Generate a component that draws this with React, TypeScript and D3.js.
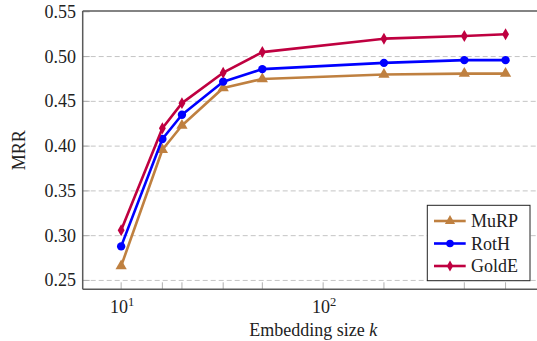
import React, { useEffect, useRef } from "react";
import * as d3 from "d3";

const W = 537;
const H = 341;

const sizes = [10, 16, 20, 32, 50, 200, 500, 800];
const xTicks = [10, 16, 20, 32, 50, 100, 200, 500, 800];
const xLabelTicks = [10, 100];
const yTicks = [0.25, 0.3, 0.35, 0.4, 0.45, 0.5, 0.55];

const murp = [0.266, 0.396, 0.423, 0.465, 0.475, 0.48, 0.481, 0.481];
const roth = [0.288, 0.408, 0.435, 0.472, 0.486, 0.493, 0.496, 0.496];
const golde = [0.306, 0.42, 0.448, 0.482, 0.505, 0.52, 0.523, 0.525];

const series = [
  { name: "MuRP", values: murp, color: "#bf8040", marker: "triangle" },
  { name: "RotH", values: roth, color: "#0000ff", marker: "circle" },
  { name: "GoldE", values: golde, color: "#bf0040", marker: "diamond" },
];

const FONT = "'Liberation Serif', 'DejaVu Serif', serif";

const App = () => {
  const svgRef = useRef<SVGSVGElement>(null);

  useEffect(() => {
    const svg = d3.select(svgRef.current);
    svg.selectAll("*").remove();

    const left = 82.7, right = 544, top = 11, bottom = 289.3;

    // pgfplots style: 10% enlargement of the data range
    const lx0 = Math.log10(d3.min(sizes)!), lx1 = Math.log10(d3.max(sizes)!);
    const ex = (lx1 - lx0) * 0.1;
    const xScale = d3
      .scaleLog()
      .domain([Math.pow(10, lx0 - ex), Math.pow(10, lx1 + ex)])
      .range([left, right]);

    const all = [...murp, ...roth, ...golde];
    const y0 = d3.min(all)!, y1 = d3.max(all)!;
    const ey = (y1 - y0) * 0.1;
    const yScale = d3.scaleLinear().domain([y0 - ey, y1 + ey]).range([bottom, top]);

    // grid
    svg
      .append("g")
      .selectAll("line")
      .data(yTicks.filter((t) => t < 0.55))
      .join("line")
      .attr("x1", left)
      .attr("x2", right)
      .attr("y1", (d) => yScale(d))
      .attr("y2", (d) => yScale(d))
      .attr("stroke", "#c4c4c4")
      .attr("stroke-width", 1)
      .attr("stroke-dasharray", "5,3");

    // y ticks (inside)
    svg
      .append("g")
      .selectAll("line")
      .data(yTicks)
      .join("line")
      .attr("x1", left)
      .attr("x2", left + 7)
      .attr("y1", (d) => yScale(d))
      .attr("y2", (d) => yScale(d))
      .attr("stroke", "#b0b0b0")
      .attr("stroke-width", 1);

    // x ticks (inside, from bottom)
    svg
      .append("g")
      .selectAll("line")
      .data(xTicks)
      .join("line")
      .attr("x1", (d) => xScale(d))
      .attr("x2", (d) => xScale(d))
      .attr("y1", bottom)
      .attr("y2", bottom - 7)
      .attr("stroke", "#b0b0b0")
      .attr("stroke-width", 1);

    // axis frame
    const axisColor = "#5a5a5a";
    svg.append("line").attr("x1", left).attr("x2", right).attr("y1", top).attr("y2", top)
      .attr("stroke", axisColor).attr("stroke-width", 1.5);
    svg.append("line").attr("x1", left).attr("x2", right).attr("y1", bottom).attr("y2", bottom)
      .attr("stroke", axisColor).attr("stroke-width", 1.5);
    svg.append("line").attr("x1", left).attr("x2", left).attr("y1", top).attr("y2", bottom)
      .attr("stroke", axisColor).attr("stroke-width", 1.5);

    // y tick labels
    svg
      .append("g")
      .selectAll("text")
      .data(yTicks)
      .join("text")
      .attr("x", 76)
      .attr("y", (d) => yScale(d) + 6)
      .attr("text-anchor", "end")
      .attr("font-family", FONT)
      .attr("font-size", 18)
      .attr("fill", "#222")
      .text((d) => d3.format(".2f")(d));

    // x tick labels 10^n
    const xl = svg
      .append("g")
      .selectAll("text")
      .data(xLabelTicks)
      .join("text")
      .attr("x", (d) => xScale(d) + 1)
      .attr("y", 312.5)
      .attr("text-anchor", "middle")
      .attr("font-family", FONT)
      .attr("font-size", 18)
      .attr("fill", "#222");
    xl.append("tspan").text("10");
    xl.append("tspan")
      .attr("dy", -7)
      .attr("font-size", 12.5)
      .text((d) => String(Math.round(Math.log10(d))));

    // axis titles
    const xt = svg
      .append("text")
      .attr("x", (left + right) / 2)
      .attr("y", 335.5)
      .attr("text-anchor", "middle")
      .attr("font-family", FONT)
      .attr("font-size", 18)
      .attr("fill", "#222");
    xt.append("tspan").text("Embedding size ");
    xt.append("tspan").attr("font-style", "italic").text("k");

    svg
      .append("text")
      .attr("transform", `translate(25,${(top + bottom) / 2}) rotate(-90)`)
      .attr("text-anchor", "middle")
      .attr("font-family", FONT)
      .attr("font-size", 18)
      .attr("fill", "#222")
      .text("MRR");

    const symbolFor = (m: string, size: number) => {
      if (m === "triangle") return d3.symbol().type(d3.symbolTriangle).size(size)();
      if (m === "diamond") return d3.symbol().type(d3.symbolDiamond).size(size * 0.75)();
      return d3.symbol().type(d3.symbolCircle).size(size)();
    };

    const line = d3
      .line<number>()
      .x((d, i) => xScale(sizes[i]))
      .y((d) => yScale(d));

    series.forEach((s) => {
      const g = svg.append("g");
      g.append("path")
        .datum(s.values)
        .attr("d", line)
        .attr("fill", "none")
        .attr("stroke", s.color)
        .attr("stroke-width", 2.6)
        .attr("stroke-linejoin", "round");
      g.selectAll("path.m")
        .data(s.values)
        .join("path")
        .attr("class", "m")
        .attr("d", symbolFor(s.marker, 55))
        .attr("transform", (d, i) => `translate(${xScale(sizes[i])},${yScale(d)})`)
        .attr("fill", s.color);
    });

    // legend
    const lg = svg.append("g");
    lg.append("rect")
      .attr("x", 427.3)
      .attr("y", 205.3)
      .attr("width", 102.7)
      .attr("height", 75.4)
      .attr("fill", "white")
      .attr("stroke", "#222")
      .attr("stroke-width", 1);
    series.forEach((s, i) => {
      const cy = 221 + i * 22.5;
      lg.append("line")
        .attr("x1", 434)
        .attr("x2", 465.7)
        .attr("y1", cy)
        .attr("y2", cy)
        .attr("stroke", s.color)
        .attr("stroke-width", 2.6);
      lg.append("path")
        .attr("d", symbolFor(s.marker, 45))
        .attr("transform", `translate(450,${cy})`)
        .attr("fill", s.color);
      lg.append("text")
        .attr("x", 471)
        .attr("y", cy + 6)
        .attr("font-family", FONT)
        .attr("font-size", 18)
        .attr("fill", "#222")
        .text(s.name);
    });
  }, []);

  return (
    <svg
      ref={svgRef}
      width={W}
      height={H}
      style={{ position: "fixed", top: 0, left: 0, background: "white" }}
    ></svg>
  );
};

export default App;
